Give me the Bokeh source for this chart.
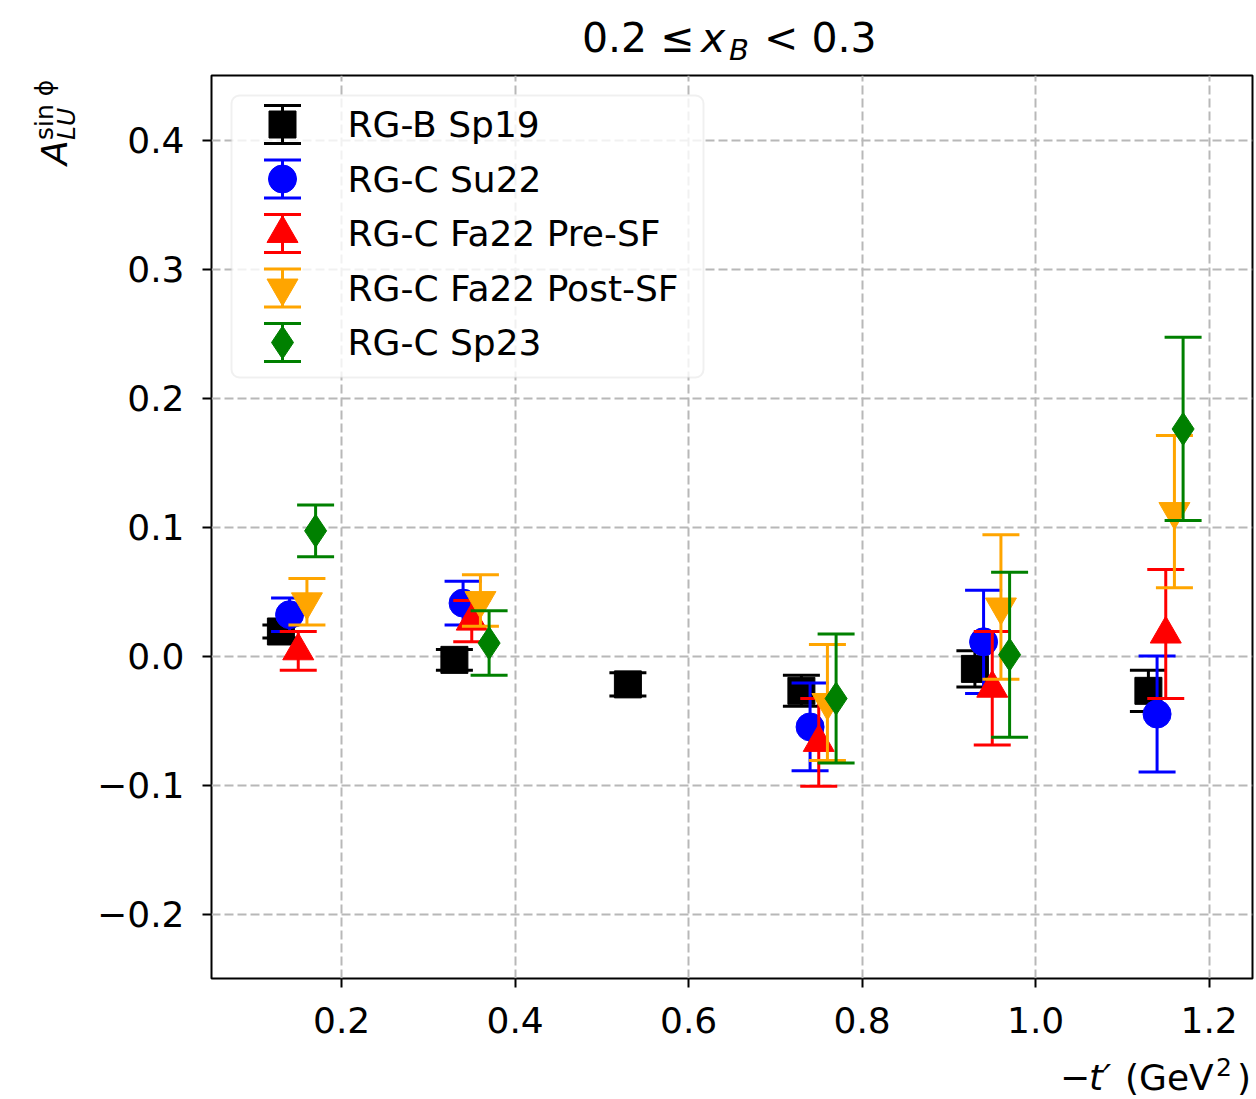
from bokeh.plotting import figure
from bokeh.layouts import column, row
from bokeh.models import (Range1d, FixedTicker, CustomJSTickFormatter, Label,
                          BoxAnnotation, ColumnDataSource, Div)
from bokeh.embed import file_html
from bokeh.resources import INLINE

# Beam-spin asymmetry A_LU^{sin phi} versus -t', bin 0.2 <= x_B < 0.3
# (points of each run period are staggered slightly in -t')
rgb_sp19_t = [0.13, 0.33, 0.53, 0.73, 0.93, 1.13]
rgb_sp19_a = [0.019, -0.003, -0.022, -0.027, -0.010, -0.027]
rgb_sp19_e = [0.005, 0.008, 0.009, 0.012, 0.014, 0.016]

rgc_su22_t = [0.14, 0.34, 0.74, 0.94, 1.14]
rgc_su22_a = [0.032, 0.041, -0.055, 0.011, -0.045]
rgc_su22_e = [0.013, 0.017, 0.034, 0.040, 0.045]

rgc_fa22_pre_t = [0.15, 0.35, 0.75, 0.95, 1.15]
rgc_fa22_pre_a = [0.004, 0.027, -0.067, -0.025, 0.017]
rgc_fa22_pre_e = [0.015, 0.016, 0.034, 0.044, 0.050]

rgc_fa22_post_t = [0.16, 0.36, 0.76, 0.96, 1.16]
rgc_fa22_post_a = [0.042, 0.043, -0.036, 0.038, 0.112]
rgc_fa22_post_e = [0.018, 0.020, 0.045, 0.056, 0.059]

rgc_sp23_t = [0.17, 0.37, 0.77, 0.97, 1.17]
rgc_sp23_a = [0.097, 0.010, -0.033, 0.001, 0.176]
rgc_sp23_e = [0.020, 0.025, 0.050, 0.064, 0.071]

run_labels = ["RG-B Sp19", "RG-C Su22", "RG-C Fa22 Pre-SF",
              "RG-C Fa22 Post-SF", "RG-C Sp23"]

x_ticks = [0.2, 0.4, 0.6, 0.8, 1.0, 1.2]
y_ticks = [-0.2, -0.1, 0.0, 0.1, 0.2, 0.3, 0.4]

series = [
    (rgb_sp19_t, rgb_sp19_a, rgb_sp19_e),
    (rgc_su22_t, rgc_su22_a, rgc_su22_e),
    (rgc_fa22_pre_t, rgc_fa22_pre_a, rgc_fa22_pre_e),
    (rgc_fa22_post_t, rgc_fa22_post_a, rgc_fa22_post_e),
    (rgc_sp23_t, rgc_sp23_a, rgc_sp23_e),
]

# colour, marker, marker size (px)
styles = [
    ("black", "square", 27),
    ("blue", "circle", 28),
    ("red", "triangle", 31),
    ("orange", "inverted_triangle", 31),
    ("green", "diamond", 33),
]

FONT = "DejaVu Sans"
W, H = 1256, 1099
TITLE_H = 70          # strip above the plot holding the title
YLAB_W = 80           # strip left of the plot holding the y label
XLAB_H = 49           # strip below the plot holding the x label
FIG_W, FIG_H = W - YLAB_W, H - TITLE_H - XLAB_H
B_LEFT, B_RIGHT, B_TOP, B_BOTTOM = 211 - YLAB_W, 4, 5, 72
FW, FH = FIG_W - B_LEFT - B_RIGHT, FIG_H - B_TOP - B_BOTTOM
CAP = 37          # error-bar cap width, px
ELW = 3           # error-bar line width, px

p = figure(width=FIG_W, height=FIG_H, x_range=Range1d(0.05, 1.25),
           y_range=Range1d(-0.25, 0.45),
           output_backend="svg", toolbar_location=None, title_location=None,
           min_border_left=B_LEFT, min_border_right=B_RIGHT,
           min_border_top=B_TOP, min_border_bottom=B_BOTTOM, margin=0)
p.background_fill_color = "white"
p.border_fill_color = "white"
p.outline_line_color = "black"
p.outline_line_width = 2

# axes
fmt = CustomJSTickFormatter(code="return tick.toFixed(1).replace('-', '\\u2212');")
for ax, ticks in ((p.xaxis[0], x_ticks), (p.yaxis[0], y_ticks)):
    ax.ticker = FixedTicker(ticks=ticks)
    ax.formatter = fmt
    ax.axis_line_color = None
    ax.major_tick_in = 0
    ax.major_tick_out = 9
    ax.major_tick_line_width = 2
    ax.major_tick_line_color = "black"
    ax.minor_tick_line_color = None
    ax.major_label_text_font = FONT
    ax.major_label_text_font_size = "36px"
    ax.major_label_text_color = "black"
p.xaxis[0].major_label_standoff = 19
p.yaxis[0].major_label_standoff = 18

p.xgrid.ticker = FixedTicker(ticks=x_ticks)
p.ygrid.ticker = FixedTicker(ticks=y_ticks)
for g in (p.xgrid[0], p.ygrid[0]):
    g.grid_line_color = "#b8b8b8"
    g.grid_line_width = 2
    g.grid_line_dash = "9 4"

# data: error bar, caps, marker, one series after the other
for (t, a, e), (col, mk, sz) in zip(series, styles):
    src = ColumnDataSource(dict(t=t, a=a,
                                lo=[v - d for v, d in zip(a, e)],
                                hi=[v + d for v, d in zip(a, e)]))
    p.segment(x0="t", y0="lo", x1="t", y1="hi", source=src,
              line_color=col, line_width=ELW)
    p.scatter("t", "lo", marker="dash", size=CAP, line_color=col, line_width=ELW, source=src)
    p.scatter("t", "hi", marker="dash", size=CAP, line_color=col, line_width=ELW, source=src)
    p.scatter("t", "a", marker=mk, size=sz, fill_color=col, line_color=col,
              line_width=1, source=src)

# legend (frame pixel coordinates, y up from the frame bottom)
p.extra_x_ranges = {"px": Range1d(0, FW)}
p.extra_y_ranges = {"px": Range1d(0, FH)}
LEG_L, LEG_R, LEG_T, LEG_B = 20, 492, 883, 601
ROW0, PITCH, ICON_X, TEXT_X, HALF = 854, 54.5, 71, 136, 19

p.add_layout(BoxAnnotation(left=LEG_L, right=LEG_R, top=LEG_T, bottom=LEG_B,
                           left_units="screen", right_units="screen",
                           top_units="screen", bottom_units="screen",
                           fill_color="white", fill_alpha=0.8,
                           line_color="#cccccc", line_width=2, border_radius=8))

for i, (name, (col, mk, sz)) in enumerate(zip(run_labels, styles)):
    cy = ROW0 - i * PITCH
    src = ColumnDataSource(dict(x=[ICON_X], y=[cy], lo=[cy - HALF], hi=[cy + HALF]))
    kw = dict(source=src, x_range_name="px", y_range_name="px", level="overlay")
    p.segment(x0="x", y0="lo", x1="x", y1="hi", line_color=col, line_width=ELW, **kw)
    p.scatter("x", "lo", marker="dash", size=CAP, line_color=col, line_width=ELW, **kw)
    p.scatter("x", "hi", marker="dash", size=CAP, line_color=col, line_width=ELW, **kw)
    p.scatter("x", "y", marker=mk, size=sz, fill_color=col, line_color=col, line_width=1, **kw)
    p.add_layout(Label(x=TEXT_X, y=cy, x_units="screen", y_units="screen",
                       text=name, text_font=FONT, text_font_size="36px",
                       text_color="black", text_baseline="alphabetic"))


# ---- texts around the plot, as positioned HTML pieces ----
ASC = 0.846   # baseline offset of DejaVu Sans at line-height 1, in em


def piece(text, left, baseline, size, italic=False, rotate=False):
    style = (f"position:absolute;white-space:nowrap;line-height:1;"
             f"font-family:'{FONT}';font-size:{size}px;color:black;"
             f"font-style:{'italic' if italic else 'normal'};")
    if rotate:
        # text runs upwards from (baseline column, start row)
        style += (f"left:{baseline - ASC * size:.1f}px;top:{left}px;"
                  "transform-origin:0 0;transform:rotate(-90deg);")
    else:
        style += f"left:{left}px;top:{baseline - ASC * size:.1f}px;"
    return f'<div style="{style}">{text}</div>'


def strip(pieces, w, h):
    inner = "".join(pieces)
    return Div(text=(f'<div style="position:relative;overflow:visible;'
                     f'width:{w}px;height:{h}px;">{inner}</div>'),
               width=w, height=h, margin=0)


title_div = strip([
    piece("0.2 \u2264", 582, 53, 41),
    piece("x", 701, 53, 41, italic=True),
    piece("B", 729, 60, 29, italic=True),
    piece("&lt; 0.3", 764, 53, 41),
], W, TITLE_H)

ylab_div = strip([
    piece("A", 165 - TITLE_H, 67, 36, italic=True, rotate=True),
    piece("LU", 140 - TITLE_H, 75, 25, italic=True, rotate=True),
    piece("sin \u03d5", 140 - TITLE_H, 53, 25, rotate=True),
], YLAB_W, FIG_H)

XL_TOP = TITLE_H + FIG_H
xlab_div = strip([
    piece("\u2212", 1060, 1090 - XL_TOP, 36),
    piece("t\u2032", 1089, 1090 - XL_TOP, 36, italic=True),
    piece("(GeV", 1125, 1090 - XL_TOP, 36),
    piece("2", 1216, 1076 - XL_TOP, 25),
    piece(")", 1237, 1090 - XL_TOP, 36),
], W, XLAB_H)

page = column(title_div, row(ylab_div, p, spacing=0), xlab_div, spacing=0)

open("out.html", "w").write(file_html(page, INLINE))
